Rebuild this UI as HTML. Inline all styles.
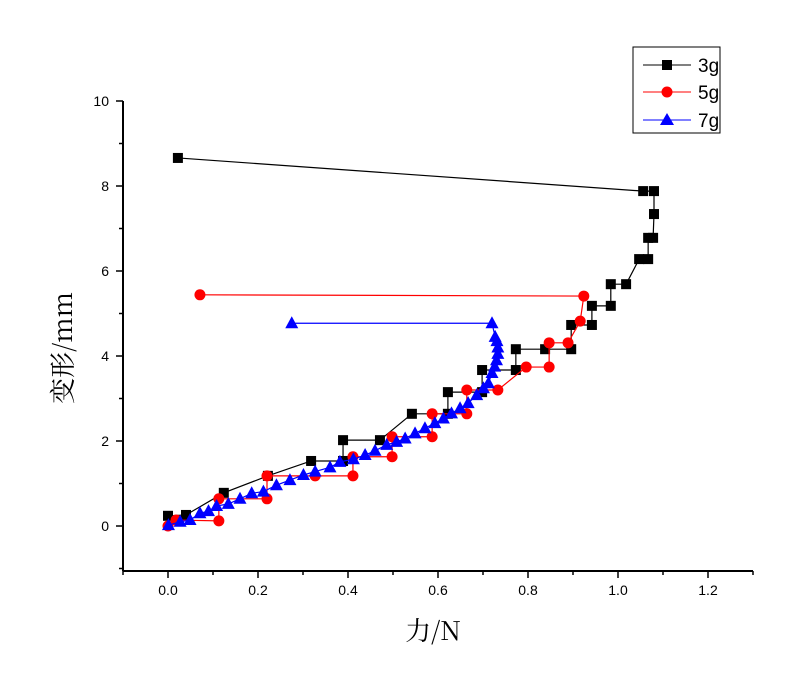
<!DOCTYPE html>
<html><head><meta charset="utf-8"><style>
body{margin:0;background:#fff;}
svg{display:block;font-family:"Liberation Sans","Noto Sans CJK SC",sans-serif;}
</style></head><body>
<svg id="chart" width="800" height="690" viewBox="0 0 800 690" xmlns="http://www.w3.org/2000/svg">
<g id="axes"></g>
<g id="series"></g>
<text x="433" y="640" font-size="26" text-anchor="middle" font-family="'Noto Serif CJK SC','Liberation Serif',serif">力/N</text>
<text transform="translate(72,348) rotate(-90)" font-size="26" text-anchor="middle" font-family="'Noto Serif CJK SC','Liberation Serif',serif">变形/mm</text>
<g>
<rect x="633" y="47" width="87" height="86" fill="#fff" stroke="#000" stroke-width="1"/>
<g><line x1="643" y1="65" x2="691" y2="65" stroke="#000"/><rect x="662" y="60" width="10" height="10" fill="#000"/><text x="698" y="72" font-size="19">3g</text></g>
<g><line x1="643" y1="92" x2="691" y2="92" stroke="#f00"/><circle cx="667" cy="92" r="5.5" fill="#f00"/><text x="698" y="99" font-size="19">5g</text></g>
<g><line x1="643" y1="120" x2="691" y2="120" stroke="#00f"/><polygon points="667,113 674,125 660,125" fill="#00f"/><text x="698" y="127" font-size="19">7g</text></g>
</g>
</svg>
<script>
const xTicks=[0,0.2,0.4,0.6,0.8,1.0,1.2];
const xTickLabels=["0.0","0.2","0.4","0.6","0.8","1.0","1.2"];
const yTicks=[0,2,4,6,8,10];
const yTickLabels=["0","2","4","6","8","10"];
const x3g=[0,0.04,0.124,0.222,0.318,0.389,0.389,0.471,0.542,0.622,0.622,0.698,0.698,0.773,0.773,0.838,0.896,0.896,0.942,0.942,0.984,0.984,1.018,1.047,1.067,1.067,1.078,1.08,1.08,1.056,0.022];
const y3g=[0.24,0.26,0.78,1.18,1.53,1.53,2.02,2.02,2.64,2.64,3.15,3.15,3.67,3.67,4.16,4.16,4.16,4.73,4.73,5.18,5.18,5.69,5.69,6.28,6.28,6.78,6.78,7.34,7.88,7.88,8.66];
const x5g=[0,0.018,0.113,0.113,0.22,0.22,0.327,0.411,0.411,0.498,0.498,0.587,0.587,0.664,0.664,0.733,0.796,0.847,0.847,0.889,0.916,0.924,0.071];
const y5g=[0,0.14,0.12,0.64,0.64,1.18,1.18,1.18,1.63,1.63,2.1,2.1,2.64,2.64,3.2,3.2,3.74,3.74,4.31,4.31,4.82,5.41,5.44];
const x7g=[0.001,0.027,0.049,0.071,0.09,0.108,0.134,0.16,0.186,0.212,0.241,0.271,0.301,0.327,0.36,0.382,0.412,0.438,0.46,0.486,0.508,0.527,0.549,0.571,0.593,0.612,0.63,0.649,0.667,0.686,0.701,0.712,0.72,0.726,0.73,0.733,0.733,0.731,0.727,0.72,0.275];
const y7g=[0.02,0.10,0.14,0.30,0.35,0.47,0.52,0.64,0.77,0.81,0.96,1.08,1.20,1.28,1.38,1.51,1.57,1.67,1.77,1.91,1.98,2.06,2.18,2.30,2.42,2.53,2.65,2.77,2.89,3.08,3.24,3.36,3.6,3.75,3.9,4.05,4.2,4.35,4.45,4.77,4.77];

const NS="http://www.w3.org/2000/svg";
const X0=-0.1,X1=1.3,Y0=-1.06,Y1=10;
const L=123,R=753,T=101,B=571;
function sx(v){return 168+v*450;}
function sy(v){return 526-v*42.5;}
function mk(tag,attrs,parent){const e=document.createElementNS(NS,tag);for(const k in attrs)e.setAttribute(k,attrs[k]);parent.appendChild(e);return e;}
const axes=document.getElementById('axes');
const ax=mk('line',{x1:L,y1:B,x2:R,y2:B,stroke:'#000','stroke-width':2},axes);


const ay=mk('line',{x1:L,y1:T,x2:L,y2:B,stroke:'#000','stroke-width':2},axes);


for(let i=-1;i<=13;i++){const v=i/10;const px=sx(v);const major=(i%2===0);
 mk('line',{x1:px,y1:B,x2:px,y2:B+(major?7:4),stroke:'#000','stroke-width':1.5},axes);}
xTicks.forEach((v,i)=>{const t=mk('text',{x:sx(v),y:B+24,'font-size':14,'text-anchor':'middle'},axes);t.textContent=xTickLabels[i];
 
 });
for(let v=-1;v<=10;v++){const py=sy(v);const major=(v%2===0);
 mk('line',{x1:L,y1:py,x2:L-(major?7:4),y2:py,stroke:'#000','stroke-width':1.5},axes);}
yTicks.forEach((v,i)=>{const t=mk('text',{x:109,y:sy(v)+5,'font-size':14,'text-anchor':'end'},axes);t.textContent=yTickLabels[i];
 
 });

const sg=document.getElementById('series');
function drawSeries(xs,ys,color,shape,name){
 const g=mk('g',{},sg);
 
 
 mk('polyline',{points:xs.map((x,i)=>sx(x)+','+sy(ys[i])).join(' '),fill:'none',stroke:color,'stroke-width':1.2},g);
 xs.forEach((x,i)=>{const cx=sx(x),cy=sy(ys[i]);let m;
  if(shape==='square')m=mk('rect',{x:cx-5,y:cy-5,width:10,height:10,fill:color},g);
  else if(shape==='circle')m=mk('circle',{cx:cx,cy:cy,r:5.5,fill:color},g);
  else m=mk('polygon',{points:`${cx},${cy-7} ${cx+6.5},${cy+5} ${cx-6.5},${cy+5}`,fill:color},g);
  
  });
}
drawSeries(x3g,y3g,'#000','square','series-3g');
drawSeries(x5g,y5g,'#f00','circle','series-5g');
drawSeries(x7g,y7g,'#00f','triangle','series-7g');
</script>
</body></html>
